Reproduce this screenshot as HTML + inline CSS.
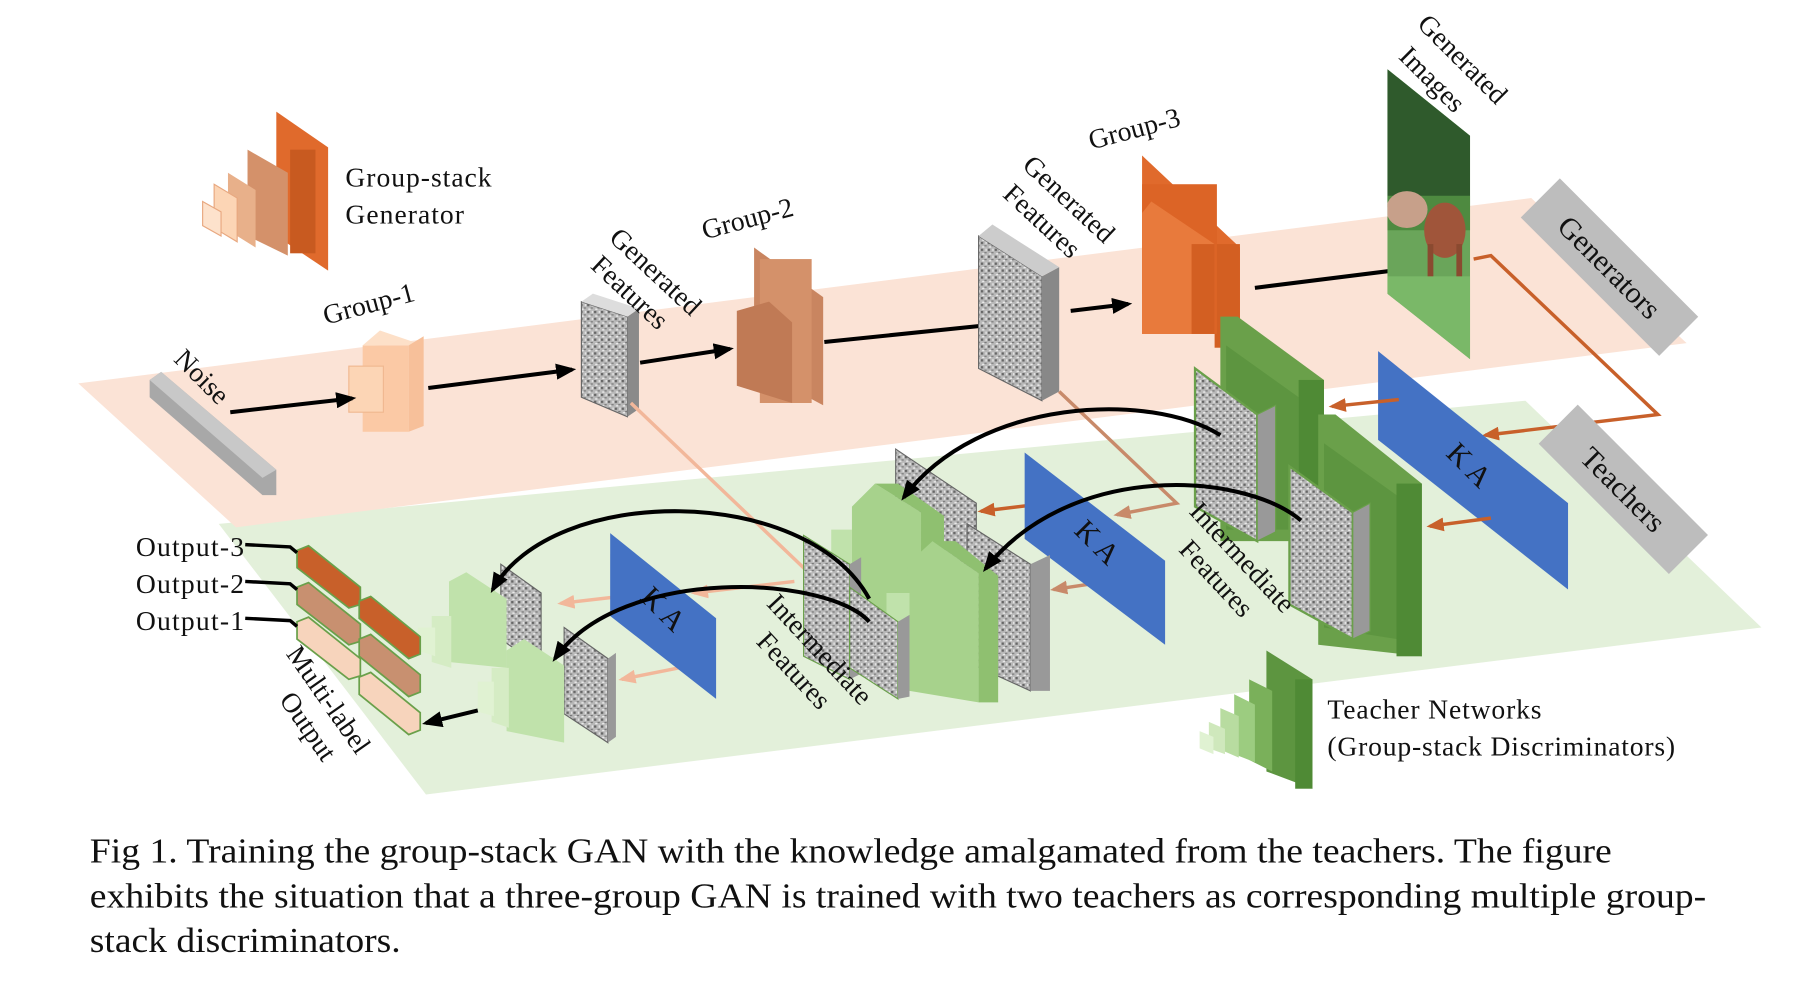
<!DOCTYPE html>
<html><head><meta charset="utf-8"><style>
html,body{margin:0;padding:0;background:#fff;width:1796px;height:981px;overflow:hidden}
svg{display:block}
text{font-family:"Liberation Serif",serif;fill:#111}
</style></head><body>
<svg width="1796" height="981" viewBox="0 0 1560 852" preserveAspectRatio="none" xmlns="http://www.w3.org/2000/svg">
<defs>
<pattern id="tex" width="6" height="6" patternUnits="userSpaceOnUse">
<rect width="6" height="6" fill="#b8b8b8"/>
<rect x="0" y="0" width="2" height="2" fill="#666"/>
<rect x="3" y="3" width="2" height="1" fill="#777"/>
<rect x="4" y="0" width="1" height="2" fill="#eee"/>
<rect x="1" y="4" width="2" height="1" fill="#f4f4f4"/>
</pattern>
<marker id="ah" markerWidth="5" markerHeight="4" refX="4" refY="2" orient="auto" markerUnits="strokeWidth"><path d="M0,0 L5,2 L0,4 z" fill="#000"/></marker>
<marker id="ao" markerWidth="5" markerHeight="4" refX="4" refY="2" orient="auto" markerUnits="strokeWidth"><path d="M0,0 L5,2 L0,4 z" fill="#c8602a"/></marker>
<marker id="ap" markerWidth="5" markerHeight="4" refX="4" refY="2" orient="auto" markerUnits="strokeWidth"><path d="M0,0 L5,2 L0,4 z" fill="#f2b79a"/></marker>
<marker id="ab" markerWidth="5" markerHeight="4" refX="4" refY="2" orient="auto" markerUnits="strokeWidth"><path d="M0,0 L5,2 L0,4 z" fill="#c88a6a"/></marker>
<clipPath id="imgc"><polygon points="1205,60 1277,118 1277,312 1205,255"/></clipPath>
</defs>

<!-- planes -->
<polygon points="190,455 1325,348 1530,545 370,690" fill="#e3f0da"/>
<polygon points="68,333 1330,172 1465,298 205,458" fill="#fbe3d6"/>

<!-- legend generator -->
<g>
<polygon points="240,97 285,128 285,235 240,205" fill="#e06a2c"/>
<rect x="252" y="130" width="22" height="90" fill="#c85a20"/>
<polygon points="215,130 250,150 250,222 215,205" fill="#d4916a"/>
<polygon points="198,150 222,165 222,215 198,200" fill="#e8b08a"/>
<polygon points="186,160 206,172 206,210 186,198" fill="#fcd5b5" stroke="#e8a880"/>
<polygon points="176,175 192,184 192,205 176,196" fill="#fde2cc" stroke="#e8a880"/>
</g>
<text x="300" y="162" font-size="24" textLength="127">Group-stack</text>
<text x="300" y="194" font-size="24" textLength="103">Generator</text>

<!-- noise bar -->
<polygon points="130,330 140,323 240,408 240,430 228,430 130,345" fill="#a8a8a8"/>
<polygon points="130,330 140,323 240,408 228,415" fill="#c8c8c8"/>
<text font-size="24" transform="translate(150,313) rotate(45)">Noise</text>

<!-- group-1 -->
<rect x="315" y="300" width="40" height="75" fill="#fbc9a5"/>
<polygon points="315,300 330,287 368,300 355,300" fill="#fde0c8"/>
<polygon points="355,300 368,292 368,370 355,375" fill="#f7c09a"/>
<rect x="303" y="318" width="30" height="40" fill="#fcd5b5" stroke="#f0b890" stroke-width="1"/>
<text font-size="24" transform="translate(283,282) rotate(-15)">Group-1</text>

<!-- arrows top -->
<g stroke="#000" stroke-width="3.5" fill="none" marker-end="url(#ah)">
<line x1="200" y1="358" x2="306" y2="346"/>
<line x1="372" y1="337" x2="497" y2="321"/>
<line x1="556" y1="315" x2="634" y2="303"/>
<line x1="716" y1="297" x2="872" y2="281"/>
<line x1="930" y1="270" x2="980" y2="264"/>
<line x1="1090" y1="250" x2="1226" y2="233"/>
</g>

<!-- feature map 1 -->
<polygon points="505,262 545,275 545,362 505,345" fill="url(#tex)" stroke="#666"/>
<polygon points="545,275 555,268 555,355 545,362" fill="#8a8a8a"/>
<polygon points="505,262 515,255 555,268 545,275" fill="#ddd"/>
<text font-size="24" transform="translate(528,208) rotate(43)">Generated</text>
<text font-size="24" transform="translate(512,232) rotate(43)">Features</text>

<!-- group-2 -->
<polygon points="655,215 715,258 715,352 655,320" fill="#c98560"/>
<rect x="660" y="225" width="45" height="125" fill="#d4916a"/>
<polygon points="640,270 668,262 688,280 688,350 640,335" fill="#c07a55"/>
<text font-size="24" transform="translate(612,208) rotate(-15)">Group-2</text>

<!-- feature map 2 -->
<polygon points="850,205 905,240 905,348 850,320" fill="url(#tex)" stroke="#666"/>
<polygon points="905,240 920,232 920,340 905,348" fill="#888"/>
<polygon points="850,205 862,195 920,232 905,240" fill="#ccc"/>
<text font-size="24" transform="translate(887,145) rotate(43)">Generated</text>
<text font-size="24" transform="translate(870,170) rotate(43)">Features</text>

<!-- group-3 -->
<polygon points="992,135 1077,215 1077,300 992,255" fill="#e06a2c"/>
<rect x="1055" y="212" width="22" height="90" fill="#d35f22"/>
<rect x="992" y="160" width="65" height="130" fill="#dc6426"/>
<polygon points="992,185 1000,175 1055,212 1055,290 992,290" fill="#e87a3c"/>
<rect x="1035" y="212" width="20" height="78" fill="#d35f22"/>
<text font-size="24" transform="translate(948,130) rotate(-15)">Group-3</text>

<!-- generated image -->
<g clip-path="url(#imgc)">
<rect x="1205" y="60" width="72" height="255" fill="#6aa55a"/>
<rect x="1205" y="60" width="72" height="120" fill="#2f5a2c"/>
<rect x="1205" y="170" width="72" height="30" fill="#4e8a40"/>
<ellipse cx="1222" cy="182" rx="18" ry="16" fill="#c7a08a"/>
<ellipse cx="1255" cy="200" rx="18" ry="24" fill="#a0553a"/>
<rect x="1240" y="212" width="5" height="30" fill="#8a4a30"/>
<rect x="1265" y="212" width="5" height="30" fill="#8a4a30"/>
<rect x="1205" y="240" width="72" height="80" fill="#7ab868"/>
</g>
<text font-size="24" transform="translate(1230,22) rotate(45)">Generated</text>
<text font-size="24" transform="translate(1214,50) rotate(45)">Images</text>

<!-- Generators label -->
<g transform="translate(1398,232) rotate(45)">
<rect x="-85" y="-24" width="170" height="48" fill="#bdbdbd"/>
<text x="0" y="9" font-size="26" text-anchor="middle">Generators</text>
</g>
<polyline points="1280,225 1295,222 1440,360 1290,378" fill="none" stroke="#c8602a" stroke-width="3" marker-end="url(#ao)"/>

<!-- big KA -->
<polygon points="1197,305 1362,437 1362,512 1197,382" fill="#4472c4"/>
<text font-size="26" transform="translate(1255,395) rotate(45)">K A</text>

<!-- Teachers label -->
<g transform="translate(1410,425) rotate(45)">
<rect x="-80" y="-24" width="160" height="48" fill="#bdbdbd"/>
<text x="0" y="9" font-size="26" text-anchor="middle">Teachers</text>
</g>

<!-- teacher net right -->
<polygon points="1060,275 1075,275 1150,330 1150,470 1060,470" fill="#6aa04a"/>
<rect x="1128" y="330" width="22" height="140" fill="#4f8a35"/>
<polygon points="1065,300 1128,345 1128,460 1065,460" fill="#5d9540"/>
<polygon points="1038,320 1092,360 1092,470 1038,440" fill="url(#tex)" stroke="#6aa04a" stroke-width="2"/>
<polygon points="1092,360 1108,352 1108,462 1092,470" fill="#999" stroke="#6aa04a"/>
<polygon points="1145,360 1160,360 1235,420 1235,570 1145,560" fill="#6aa04a"/>
<rect x="1213" y="420" width="22" height="150" fill="#4f8a35"/>
<polygon points="1150,385 1213,430 1213,555 1150,545" fill="#5d9540"/>
<polygon points="1120,405 1175,445 1175,555 1120,525" fill="url(#tex)" stroke="#6aa04a" stroke-width="2"/>
<polygon points="1175,445 1190,437 1190,548 1175,555" fill="#999" stroke="#6aa04a"/>

<g stroke="#c8602a" stroke-width="3" fill="none" marker-end="url(#ao)">
<line x1="1215" y1="347" x2="1157" y2="353"/>
<line x1="1295" y1="450" x2="1242" y2="457"/>
<line x1="910" y1="437" x2="852" y2="444"/>
</g>
<g stroke="#c88a6a" stroke-width="3" fill="none" marker-end="url(#ab)">
<polyline points="920,340 1022,437 970,447"/>
<line x1="975" y1="503" x2="915" y2="512"/>
</g>
<g stroke="#f2b79a" stroke-width="3" fill="none">
<line x1="548" y1="350" x2="700" y2="495"/>
<line x1="690" y1="505" x2="603" y2="515" marker-end="url(#ap)"/>
<line x1="548" y1="517" x2="487" y2="524" marker-end="url(#ap)"/>
<line x1="590" y1="580" x2="540" y2="590" marker-end="url(#ap)"/>
</g>

<!-- KA 2 -->
<polygon points="890,393 1012,487 1012,560 890,468" fill="#4472c4"/>
<text font-size="26" transform="translate(932,462) rotate(45)">K A</text>

<!-- middle green stacks -->
<polygon points="778,390 848,437 848,510 778,470" fill="url(#tex)" stroke="#666"/>
<polygon points="740,440 760,420 800,445 800,570 740,560" fill="#a7d28c"/>
<polygon points="760,420 780,420 820,448 820,575 800,570 800,445" fill="#8fc070"/>
<polygon points="722,460 740,460 740,565 722,555" fill="#c0e2ab"/>
<polygon points="698,465 738,490 738,590 698,570" fill="url(#tex)" stroke="#6aa04a"/>
<polygon points="738,490 748,484 748,585 738,590" fill="#999"/>
<polygon points="840,455 895,490 895,600 840,575" fill="url(#tex)" stroke="#666"/>
<polygon points="895,490 912,482 912,600 895,600" fill="#999"/>
<polygon points="788,490 810,470 850,498 850,610 790,600" fill="#a7d28c"/>
<polygon points="810,470 830,470 867,500 867,610 850,610 850,498" fill="#8fc070"/>
<polygon points="770,515 790,515 790,605 770,595" fill="#c0e2ab"/>
<polygon points="738,510 780,540 780,607 738,580" fill="url(#tex)" stroke="#6aa04a"/>
<polygon points="780,540 790,534 790,605 780,607" fill="#999"/>
<text font-size="24" transform="translate(1032,445) rotate(47)">Intermediate</text>
<text font-size="24" transform="translate(1023,478) rotate(47)">Features</text>
<text font-size="24" transform="translate(665,525) rotate(47)">Intermediate</text>
<text font-size="24" transform="translate(656,558) rotate(47)">Features</text>

<!-- KA 3 -->
<polygon points="530,463 622,537 622,607 530,535" fill="#4472c4"/>
<text font-size="26" transform="translate(555,520) rotate(45)">K A</text>

<!-- left green -->
<polygon points="435,490 470,515 470,580 435,555" fill="url(#tex)" stroke="#666"/>
<polygon points="390,505 405,497 440,520 440,580 390,575" fill="#c0e2ab"/>
<polygon points="375,535 392,535 392,580 375,575" fill="#d5ecc4"/>
<polygon points="363,545 378,545 378,570 363,565" fill="#e0f2d2"/>
<polygon points="490,545 528,572 528,645 490,620" fill="url(#tex)" stroke="#666"/>
<polygon points="528,572 535,567 535,640 528,645" fill="#999"/>
<polygon points="440,565 455,555 490,578 490,645 440,635" fill="#c0e2ab"/>
<polygon points="427,580 442,580 442,632 427,627" fill="#d5ecc4"/>
<polygon points="415,592 429,592 429,622 415,618" fill="#e0f2d2"/>

<g stroke="#000" stroke-width="3.5" fill="none" marker-end="url(#ah)">
<path d="M1060,378 C1000,340 850,345 785,432"/>
<path d="M1130,452 C1080,410 930,400 856,494"/>
<path d="M755,520 C700,420 480,420 428,512"/>
<path d="M755,540 C720,500 540,490 482,572"/>
<line x1="415" y1="617" x2="370" y2="628"/>
</g>

<!-- output bars -->
<g stroke-width="1.5">
<polygon points="258,478 268,474 313,510 313,525 303,528 258,493" fill="#c8602a" stroke="#6aa04a"/>
<polygon points="258,510 268,506 313,542 313,557 303,560 258,525" fill="#c89070" stroke="#6aa04a"/>
<polygon points="258,540 268,536 313,572 313,587 303,590 258,555" fill="#f7d4bc" stroke="#6aa04a"/>
<polygon points="312,522 322,518 365,553 365,568 355,572 312,537" fill="#c8602a" stroke="#6aa04a"/>
<polygon points="312,555 322,551 365,586 365,601 355,605 312,570" fill="#c89070" stroke="#6aa04a"/>
<polygon points="312,588 322,584 365,619 365,634 355,638 312,603" fill="#f7d4bc" stroke="#6aa04a"/>
</g>
<g stroke="#000" stroke-width="3" fill="none">
<polyline points="213,473 252,475 258,480"/>
<polyline points="213,505 252,507 258,512"/>
<polyline points="213,537 252,539 258,544"/>
</g>
<text x="118" y="483" font-size="24" textLength="94">Output-3</text>
<text x="118" y="515" font-size="24" textLength="94">Output-2</text>
<text x="118" y="547" font-size="24" textLength="94">Output-1</text>
<text font-size="24" transform="translate(248,568) rotate(55)">Multi-label</text>
<text font-size="24" transform="translate(242,608) rotate(55)">Output</text>

<!-- legend teacher -->
<polygon points="1100,565 1140,590 1140,685 1100,670" fill="#5d9540"/>
<rect x="1125" y="590" width="15" height="95" fill="#4f8a35"/>
<polygon points="1085,590 1105,600 1105,670 1085,660" fill="#7ab05a"/>
<polygon points="1072,603 1090,612 1090,662 1072,655" fill="#9ccc80"/>
<polygon points="1060,615 1076,622 1076,658 1060,651" fill="#b8dca0"/>
<polygon points="1050,627 1064,633 1064,655 1050,650" fill="#cfe8bc"/>
<polygon points="1042,635 1054,640 1054,655 1042,650" fill="#e0f2d2"/>
<text x="1153" y="624" font-size="24" textLength="186">Teacher Networks</text>
<text x="1153" y="656" font-size="24" textLength="302">(Group-stack Discriminators)</text>

<!-- caption -->
<text x="78" y="749" font-size="30" textLength="1322" lengthAdjust="spacingAndGlyphs">Fig 1. Training the group-stack GAN with the knowledge amalgamated from the teachers. The figure</text>
<text x="78" y="788" font-size="30" textLength="1404" lengthAdjust="spacingAndGlyphs">exhibits the situation that a three-group GAN is trained with two teachers as corresponding multiple group-</text>
<text x="78" y="827" font-size="30" textLength="270" lengthAdjust="spacingAndGlyphs">stack discriminators.</text>
</svg>
</body></html>
